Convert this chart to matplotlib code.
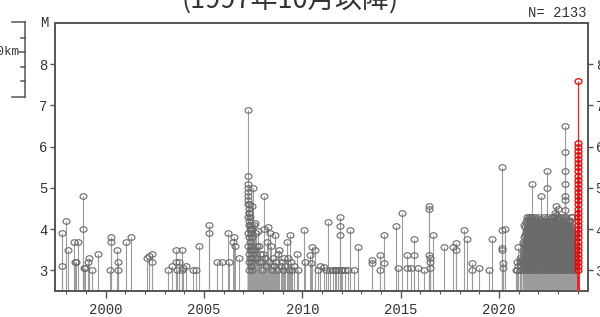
import matplotlib
matplotlib.use("Agg")
import matplotlib.pyplot as plt
from matplotlib.path import Path
from matplotlib.lines import Line2D

# M-T diagram (since Oct 1997)

# 1997-2007 background activity
pre07_t = [1997.80, 1997.81, 1997.99, 1998.08, 1998.41, 1998.44, 1998.50, 1998.62,
           1998.86, 1998.87, 1998.88, 1998.96, 1999.11, 1999.18, 1999.31, 1999.60,
           2000.25, 2000.26, 2000.27, 2000.60, 2000.61, 2000.62, 2001.04, 2001.28,
           2002.09, 2002.23, 2002.35, 2002.36, 2003.19, 2003.36, 2003.57, 2003.60,
           2003.65, 2003.75, 2003.87, 2003.90, 2003.94, 2004.09, 2004.45, 2004.60,
           2004.75, 2005.26, 2005.27, 2005.65, 2005.91, 2006.24, 2006.25, 2006.50,
           2006.55, 2006.58, 2006.80]
pre07_m = [3.9, 3.1, 4.2, 3.5, 3.7, 3.2, 3.2, 3.7,
           4.8, 4.0, 3.05, 3.05, 3.2, 3.3, 3.0, 3.4,
           3.0, 3.8, 3.7, 3.5, 3.2, 3.0, 3.7, 3.8,
           3.3, 3.35, 3.4, 3.2, 3.0, 3.1, 3.5, 3.2,
           3.0, 3.2, 3.5, 3.0, 3.05, 3.1, 3.0, 3.0,
           3.6, 4.1, 3.9, 3.2, 3.2, 3.9, 3.2, 3.7,
           3.8, 3.6, 3.3]

# 2007 Noto Hanto earthquake and aftershocks
noto07_t = [2007.23, 2007.23, 2007.24, 2007.24, 2007.24, 2007.25, 2007.25, 2007.25,
            2007.26, 2007.26, 2007.26, 2007.27, 2007.27, 2007.28, 2007.28, 2007.29,
            2007.29, 2007.30, 2007.30, 2007.31, 2007.31, 2007.32, 2007.33, 2007.33,
            2007.34, 2007.35, 2007.36, 2007.37, 2007.38, 2007.39, 2007.40, 2007.41,
            2007.42, 2007.43, 2007.44, 2007.45, 2007.46, 2007.48]
noto07_m = [6.9, 5.3, 5.1, 4.9, 4.3, 5.0, 4.7, 3.9,
            4.8, 4.6, 3.6, 4.5, 4.1, 4.4, 3.4, 4.6,
            3.2, 4.2, 3.8, 4.4, 3.0, 4.3, 4.0, 3.5,
            3.7, 4.1, 3.3, 3.9, 3.1, 3.6, 4.0, 3.2,
            3.5, 3.0, 3.8, 4.56, 3.3, 5.0]

# 2007-2020
mid_t = [2007.52, 2007.55, 2007.60, 2007.63, 2007.66, 2007.70, 2007.75, 2007.78,
         2007.82, 2007.86, 2007.90, 2007.95, 2008.00, 2008.04, 2008.07, 2008.10,
         2008.15, 2008.20, 2008.26, 2008.30, 2008.36, 2008.40, 2008.45, 2008.50,
         2008.55, 2008.61, 2008.65, 2008.70, 2008.75, 2008.83, 2008.90, 2008.95,
         2009.00, 2009.05, 2009.10, 2009.21, 2009.25, 2009.30, 2009.38, 2009.45,
         2009.50, 2009.60, 2009.72, 2009.80,
         2010.10, 2010.14, 2010.39, 2010.45, 2010.50, 2010.66, 2010.78, 2010.90,
         2011.11, 2011.20, 2011.32, 2011.41, 2011.56, 2011.65, 2011.72, 2011.82,
         2011.92, 2011.93, 2011.94, 2011.95, 2012.02, 2012.17, 2012.33, 2012.43,
         2012.65, 2012.85, 2013.53, 2013.55, 2013.95, 2013.97, 2014.15, 2014.17,
         2014.75, 2014.88, 2015.08, 2015.31, 2015.33, 2015.53, 2015.69, 2015.70,
         2015.90, 2016.20, 2016.44, 2016.45, 2016.46, 2016.47, 2016.48, 2016.49,
         2016.63,
         2017.20, 2017.65, 2017.81, 2017.82, 2018.24, 2018.39, 2018.61, 2018.62,
         2018.99, 2019.49, 2019.63, 2020.14, 2020.15, 2020.16, 2020.17, 2020.18,
         2020.19, 2020.30, 2020.85]
mid_m = [4.1, 3.5, 4.15, 3.9, 3.3, 3.6, 3.95, 3.2,
         3.6, 3.4, 3.2, 3.0, 3.4, 4.0, 4.8, 3.3,
         3.1, 3.7, 4.05, 3.2, 3.9, 3.6, 3.0, 3.3,
         3.1, 3.87, 3.2, 3.0, 3.4, 3.5, 3.1, 3.2,
         3.0, 3.3, 3.1, 3.7, 3.3, 3.0, 3.87, 3.2,
         3.0, 3.1, 3.4, 3.0,
         3.98, 3.2, 3.37, 3.18, 3.57, 3.49, 3.0, 3.1,
         3.07, 3.0, 4.18, 3.0, 3.0, 3.0, 3.0, 3.0,
         4.3, 4.07, 3.87, 3.0, 3.0, 3.0, 3.0, 3.98,
         3.0, 3.57, 3.26, 3.18, 3.37, 3.0, 3.87, 3.17,
         4.07, 3.06, 4.38, 3.37, 3.06, 3.06, 3.77, 3.37,
         3.06, 3.0, 4.55, 4.48, 3.37, 3.2, 3.06, 3.3,
         3.87,
         3.57, 3.57, 3.67, 3.5, 3.98, 3.77, 3.18, 3.0,
         3.06, 3.0, 3.77, 5.5, 3.98, 3.55, 3.49, 3.18,
         3.06, 4.0, 3.0]

# 2020-2023 swarm, grouped by date
swarm_t = [2020.90, 2020.98, 2021.05, 2021.12, 2021.20, 2021.27, 2021.35, 2021.42,
           2021.50, 2021.57, 2021.64, 2021.69, 2021.76, 2021.83, 2021.90, 2021.97,
           2022.04, 2022.12, 2022.19, 2022.26, 2022.33, 2022.42, 2022.49, 2022.56,
           2022.63, 2022.70, 2022.77, 2022.84, 2022.91, 2022.98, 2023.05, 2023.12,
           2023.19, 2023.26, 2023.34, 2023.41, 2023.48, 2023.55, 2023.62, 2023.70,
           2023.77, 2023.84, 2023.90]
swarm_m = [[3.0, 3.2], [3.1, 3.57], [3.0, 3.2, 3.3], [3.1, 3.25],
           [3.0, 3.3, 3.5, 3.7], [3.0, 3.2, 3.4, 3.6, 3.8, 4.1],
           [3.1, 3.3, 3.5, 3.7, 3.9, 4.2], [3.0, 3.2, 3.4, 3.6, 3.8, 4.0, 4.3],
           [3.1, 3.3, 3.5, 3.7, 3.9, 4.1, 4.3], [3.0, 3.2, 3.4, 3.6, 3.8, 4.0, 4.2],
           [3.1, 3.3, 3.5, 3.7, 3.9, 4.1, 4.3], [3.0, 3.2, 3.4, 3.6, 3.8, 4.0, 4.3, 5.1],
           [3.1, 3.3, 3.5, 3.7, 3.9, 4.2], [3.0, 3.2, 3.4, 3.6, 3.8, 4.0, 4.3],
           [3.1, 3.3, 3.5, 3.7, 3.9, 4.1], [3.0, 3.2, 3.4, 3.6, 3.8, 4.0, 4.2],
           [3.1, 3.3, 3.5, 3.7, 3.9, 4.3], [3.0, 3.2, 3.4, 3.6, 3.8, 4.0, 4.2, 4.8],
           [3.1, 3.3, 3.5, 3.7, 3.9, 4.1], [3.0, 3.2, 3.4, 3.6, 3.8, 4.0, 4.3],
           [3.1, 3.3, 3.5, 3.7, 3.9, 4.2], [3.0, 3.2, 3.4, 3.6, 3.8, 4.0, 4.2, 5.0, 5.4],
           [3.1, 3.3, 3.5, 3.7, 3.9, 4.1, 4.3], [3.0, 3.2, 3.4, 3.6, 3.8, 4.0],
           [3.1, 3.3, 3.5, 3.7, 3.9, 4.2], [3.0, 3.2, 3.4, 3.6, 3.8, 4.0, 4.3],
           [3.1, 3.3, 3.5, 3.7, 3.9, 4.1], [3.0, 3.2, 3.4, 3.6, 3.8, 4.0, 4.4],
           [3.1, 3.3, 3.5, 3.7, 3.9, 4.1, 4.55], [3.0, 3.2, 3.4, 3.6, 3.8, 4.0, 4.3, 4.5],
           [3.1, 3.3, 3.5, 3.7, 3.9, 4.2], [3.0, 3.2, 3.4, 3.6, 3.8, 4.0, 4.3],
           [3.1, 3.3, 3.5, 3.7, 3.9, 4.1], [3.0, 3.2, 3.4, 3.6, 3.8, 4.0, 4.2],
           [3.0, 3.2, 3.4, 3.6, 3.8, 4.0, 4.2, 4.46, 4.7, 4.8, 5.1, 5.4, 5.87, 6.5],
           [3.1, 3.3, 3.5, 3.7, 3.9, 4.1, 4.3], [3.0, 3.2, 3.4, 3.6, 3.8, 4.0],
           [3.1, 3.3, 3.5, 3.7, 3.9, 4.2], [3.0, 3.2, 3.4, 3.6, 3.8, 4.0, 4.1],
           [3.1, 3.3, 3.5, 3.7, 3.9, 4.3], [3.0, 3.2, 3.4, 3.6, 3.8],
           [3.1, 3.3, 3.5, 3.7], [3.0, 3.2]]

# more swarm days in between
swarm2_t = [2021.23, 2021.31, 2021.38, 2021.46, 2021.53, 2021.60, 2021.72, 2021.80,
            2021.87, 2021.94, 2022.01, 2022.08, 2022.15, 2022.23, 2022.30, 2022.37,
            2022.45, 2022.52, 2022.60, 2022.67, 2022.74, 2022.81, 2022.88, 2022.95,
            2023.02, 2023.09, 2023.16, 2023.23, 2023.30, 2023.38, 2023.45, 2023.52,
            2023.59, 2023.66, 2023.73, 2023.80]
swarm2_m = [[3.05, 3.25, 3.45, 3.65], [3.05, 3.25, 3.45, 3.65, 3.85, 4.05],
            [3.15, 3.35, 3.55, 3.75, 3.95, 4.15], [3.05, 3.25, 3.45, 3.65, 3.85, 4.05, 4.25],
            [3.15, 3.35, 3.55, 3.75, 3.95, 4.15], [3.05, 3.25, 3.45, 3.65, 3.85, 4.05, 4.25],
            [3.15, 3.35, 3.55, 3.75, 3.95, 4.15], [3.05, 3.25, 3.45, 3.65, 3.85, 4.05, 4.2],
            [3.15, 3.35, 3.55, 3.75, 3.95, 4.25], [3.05, 3.25, 3.45, 3.65, 3.85, 4.05],
            [3.15, 3.35, 3.55, 3.75, 3.95, 4.15], [3.05, 3.25, 3.45, 3.65, 3.85, 4.05, 4.25],
            [3.15, 3.35, 3.55, 3.75, 3.95], [3.05, 3.25, 3.45, 3.65, 3.85, 4.05, 4.2],
            [3.15, 3.35, 3.55, 3.75, 3.95, 4.15], [3.05, 3.25, 3.45, 3.65, 3.85, 4.05, 4.25],
            [3.15, 3.35, 3.55, 3.75, 3.95, 4.15], [3.05, 3.25, 3.45, 3.65, 3.85, 4.05],
            [3.15, 3.35, 3.55, 3.75, 3.95, 4.25], [3.05, 3.25, 3.45, 3.65, 3.85, 4.05, 4.15],
            [3.15, 3.35, 3.55, 3.75, 3.95, 4.2], [3.05, 3.25, 3.45, 3.65, 3.85, 4.05, 4.3],
            [3.15, 3.35, 3.55, 3.75, 3.95, 4.15, 4.35], [3.05, 3.25, 3.45, 3.65, 3.85, 4.05, 4.25],
            [3.15, 3.35, 3.55, 3.75, 3.95, 4.15], [3.05, 3.25, 3.45, 3.65, 3.85, 4.05, 4.25],
            [3.15, 3.35, 3.55, 3.75, 3.95], [3.05, 3.25, 3.45, 3.65, 3.85, 4.05, 4.2],
            [3.15, 3.35, 3.55, 3.75, 3.95, 4.15, 4.3], [3.05, 3.25, 3.45, 3.65, 3.85, 4.05, 4.25],
            [3.15, 3.35, 3.55, 3.75, 3.95, 4.1], [3.05, 3.25, 3.45, 3.65, 3.85, 4.05],
            [3.15, 3.35, 3.55, 3.75, 3.95, 4.2], [3.05, 3.25, 3.45, 3.65, 3.85, 4.05, 4.3],
            [3.15, 3.35, 3.55, 3.75, 3.95], [3.05, 3.25, 3.45, 3.65, 3.85]]

# 2024 events (red)
red_t = [2024.00, 2024.00, 2024.00, 2024.00, 2024.00, 2024.00, 2024.00, 2024.00,
         2024.00, 2024.00, 2024.00, 2024.00, 2024.00, 2024.00, 2024.00, 2024.00,
         2024.01, 2024.01, 2024.01, 2024.01, 2024.01, 2024.01, 2024.01, 2024.01,
         2024.01, 2024.01, 2024.01, 2024.01, 2024.01, 2024.01, 2024.01, 2024.01,
         2024.01]
red_m = [7.6, 6.1, 6.0, 5.9, 5.8, 5.7, 5.6, 5.5,
         5.4, 5.3, 5.2, 5.1, 5.0, 4.9, 4.8, 4.7,
         4.6, 4.5, 4.4, 4.3, 4.2, 4.1, 4.0, 3.9,
         3.8, 3.7, 3.6, 3.5, 3.4, 3.3, 3.2, 3.1,
         3.0]

year_ticks = [2000, 2005, 2010, 2015, 2020]
mag_ticks = [3, 4, 5, 6, 7, 8]

# flatten the gray events
gray_t = pre07_t + noto07_t + mid_t
gray_m = pre07_m + noto07_m + mid_m
for t, ms in list(zip(swarm_t, swarm_m)) + list(zip(swarm2_t, swarm2_m)):
    for m in ms:
        gray_t.append(t)
        gray_m.append(m)

ybot = 2.5
mono = "Liberation Mono"

# slightly flattened open circle
circ = Path.unit_circle()
ell = Path(circ.vertices * [1.0, 0.8], circ.codes)

fig = plt.figure(figsize=(6.0, 3.17), dpi=100)
ax = fig.add_axes([55 / 600, 26 / 317, 533 / 600, 268 / 317])

ax.vlines(gray_t, ybot, gray_m, color="#9c9c9c", lw=0.8, zorder=2)
ax.plot(gray_t, gray_m, ls="none", marker=ell, ms=5, mfc="none",
        mec="#6a6a6a", mew=0.8, zorder=3)
ax.vlines(red_t, ybot, red_m, color="#ff2020", lw=0.9, zorder=4)
ax.plot(red_t, red_m, ls="none", marker=ell, ms=5, mfc="none",
        mec="#ee0000", mew=0.9, zorder=5)

ax.set_xlim(1997.43, 2024.52)
ax.set_ylim(ybot, 9.0)
ax.set_xticks(year_ticks)
ax.set_xticks(range(1998, 2025), minor=True)
ax.set_yticks(mag_ticks)

for s in ax.spines.values():
    s.set_color("#555555")
    s.set_linewidth(1.4)

ax.tick_params(axis="x", which="major", direction="out", length=5, width=1,
               color="#555555", pad=3.5, labelsize=10, labelcolor="#333333")
ax.tick_params(axis="x", which="minor", direction="out", length=2.5, width=0.8,
               color="#555555")
ax.tick_params(axis="y", direction="out", length=3.5, width=1, color="#555555",
               pad=2, labelsize=10, labelcolor="#333333", right=True, labelright=True)
for lab in ax.get_xticklabels() + ax.get_yticklabels():
    lab.set_family(mono)

fig.text(44 / 600, 1 - 23 / 317, "M", ha="center", va="center",
         family=mono, fontsize=10, color="#333333")
fig.text(587 / 600, 1 - 13 / 317, "N= 2133", ha="right", va="center",
         family=mono, fontsize=10, color="#333333")
fig.text(290 / 600, 1 - 8 / 317, "(1997年10月以降)", ha="center", va="baseline",
         family=["Noto Sans CJK JP", "DejaVu Sans"], fontsize=19.5, color="#333333")

# scale bar left over from the neighbouring panel
def fpx(x, y):
    return x / 600, 1 - y / 317

bar = [((25, 22), (25, 97)), ((12, 22), (25, 22)), ((12, 97), (25, 97)),
       ((21, 38), (25, 38)), ((19, 52), (25, 52)), ((21, 67), (25, 67)),
       ((21, 81), (25, 81))]
for (x0, y0), (x1, y1) in bar:
    a, b = fpx(x0, y0)
    c, d = fpx(x1, y1)
    fig.add_artist(Line2D([a, c], [b, d], color="#555555", lw=1.1))
fig.text(19 / 600, 1 - 52 / 317, "10km", ha="right", va="center",
         family=mono, fontsize=9, color="#333333")

fig.savefig("out.png", dpi=100)
